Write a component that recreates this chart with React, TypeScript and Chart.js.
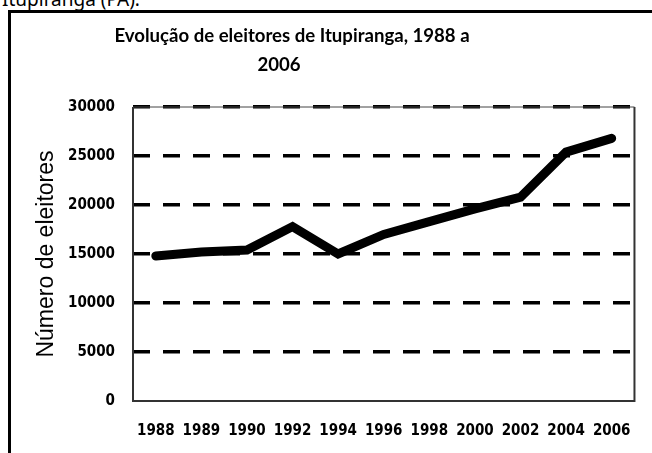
import React, { useEffect, useRef } from 'react';
import { Chart, registerables } from 'chart.js';

Chart.register(...registerables);

const years = ['1988', '1989', '1990', '1992', '1994', '1996', '1998', '2000', '2002', '2004', '2006'];
const voters = [14800, 15200, 15400, 17800, 15000, 17000, 18300, 19600, 20800, 25400, 26800];
const titleLines = ['Evolução de eleitores de Itupiranga, 1988 a', '2006'];
const yAxisTitle = 'Número de eleitores';
const pageHeading = 'Itupiranga (PA).';
const yMin = 0;
const yMax = 30000;
const yStep = 5000;

const tickFont = { family: "'DejaVu Sans Condensed', 'Liberation Sans Narrow', sans-serif", size: 15, weight: 'bold' as const };

const titlePlugin = {
  id: 'customTitle',
  afterDraw(chart: any) {
    const ctx = chart.ctx;
    ctx.save();
    ctx.fillStyle = '#000';
    ctx.font = "bold 18.6px Lato, 'Open Sans', sans-serif";
    ctx.textAlign = 'center';
    ctx.textBaseline = 'middle';
    ctx.fillText(titleLines[0], 292, 36);
    ctx.fillText(titleLines[1], 279, 65);
    ctx.restore();
  },
};

const framePlugin = {
  id: 'frame',
  beforeDatasetsDraw(chart: any) {
    const { ctx, chartArea: a } = chart;
    ctx.save();
    ctx.strokeStyle = '#333';
    ctx.lineWidth = 2;
    ctx.beginPath();
    ctx.moveTo(a.left, a.top);
    ctx.lineTo(a.left, a.bottom);
    ctx.lineTo(a.right, a.bottom);
    ctx.lineTo(a.right, a.top);
    ctx.stroke();
    ctx.lineWidth = 1;
    ctx.strokeStyle = '#444';
    ctx.beginPath();
    ctx.moveTo(a.left, a.top);
    ctx.lineTo(a.right, a.top);
    ctx.stroke();
    ctx.restore();
  },
};

export default function App() {
  const canvasRef = useRef<HTMLCanvasElement | null>(null);

  useEffect(() => {
    const canvas = canvasRef.current;
    if (!canvas) return;
    const chart = new Chart(canvas, {
      type: 'line',
      data: {
        labels: years,
        datasets: [
          {
            data: voters,
            borderColor: '#000',
            backgroundColor: '#000',
            borderWidth: 9,
            pointRadius: 0,
            tension: 0,
            borderCapStyle: 'round',
            borderJoinStyle: 'miter',
          },
        ],
      },
      options: {
        responsive: false,
        animation: false,
        layout: { padding: { left: 33, right: 12, top: 107, bottom: 0 } },
        plugins: {
          legend: { display: false },
          title: { display: false },
          tooltip: { enabled: false },
        },
        scales: {
          x: {
            offset: true,
            grid: { display: false, drawTicks: false },
            border: { display: false },
            ticks: { color: '#000', font: tickFont, padding: 21, maxRotation: 0, autoSkip: false },
            afterFit(scale: any) {
              scale.height = 52;
            },
          },
          y: {
            min: yMin,
            max: yMax,
            grid: {
              drawTicks: false,
              lineWidth: 3.5,
              color: (c: any) => (c.tick && c.tick.value === 0 ? 'rgba(0,0,0,0)' : '#000'),
            },
            border: { display: false, dash: [17, 13] },
            ticks: {
              stepSize: yStep,
              color: '#000',
              font: tickFont,
              padding: 18,
              callback: (v: any) => String(v),
            },
            title: {
              display: true,
              text: yAxisTitle,
              color: '#000',
              font: { family: "'Liberation Sans', Arial, sans-serif", size: 23 },
              padding: 0,
            },
            afterFit(scale: any) {
              scale.width = 100;
            },
          },
        },
      },
      plugins: [framePlugin, titlePlugin],
    });
    return () => chart.destroy();
  }, []);

  return (
    <div style={{ position: 'fixed', left: 0, top: 0, width: 652, height: 453, overflow: 'hidden', background: '#fff' }}>
      <div
        style={{
          position: 'absolute',
          left: 2,
          top: -12,
          fontFamily: "'Noto Sans', sans-serif",
          fontSize: 19,
          lineHeight: '22px',
          whiteSpace: 'nowrap',
          color: '#000',
        }}
      >
        {pageHeading}
      </div>
      <div
        style={{
          position: 'absolute',
          left: 8,
          top: 10,
          width: 700,
          height: 500,
          borderLeft: '3px solid #000',
          borderTop: '3px solid #000',
        }}
      />
      <canvas ref={canvasRef} width={652} height={453} style={{ position: 'absolute', left: 0, top: 0 }} />
    </div>
  );
}
